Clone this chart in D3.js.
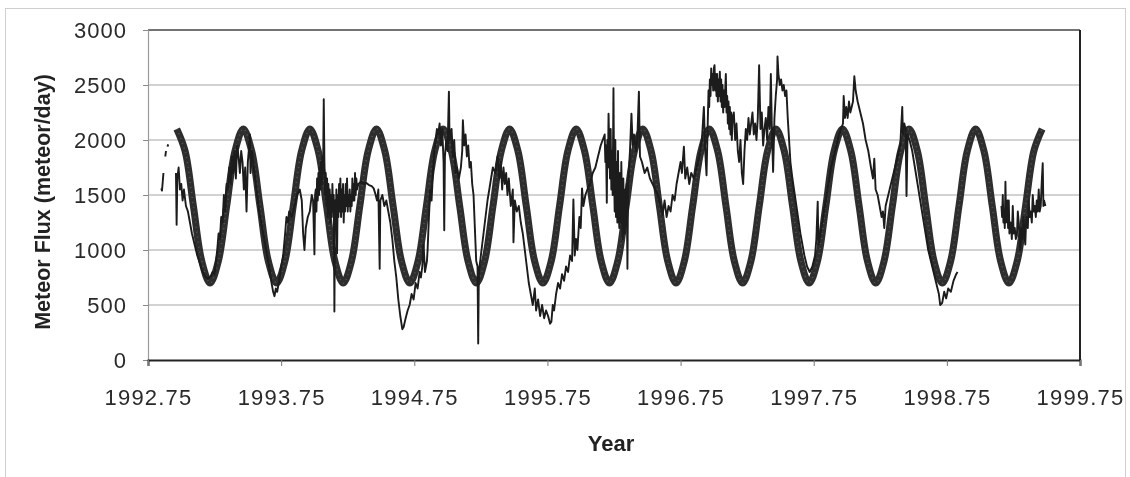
<!DOCTYPE html>
<html>
<head>
<meta charset="utf-8">
<script src="https://cdn.jsdelivr.net/npm/d3@7"></script>
<style>
  body{margin:0;background:#fff;}
  svg{display:block;font-family:"Liberation Sans", Arial, sans-serif;}
</style>
</head>
<body>
<svg id="chart" width="1130" height="477"></svg>
<script>
// axis ticks
const yearTicks = [1992.75, 1993.75, 1994.75, 1995.75, 1996.75, 1997.75, 1998.75, 1999.75];
const fluxTicks = [0, 500, 1000, 1500, 2000, 2500, 3000];

// model curve: one value every 1/16 year starting at the first peak
const modelStart = 1992.966;
const modelStep = 0.0625;
const modelFlux = [
  2100,1900,1400,900,700,900,1400,1900,
  2100,1900,1400,900,700,900,1400,1900,
  2100,1900,1400,900,700,900,1400,1900,
  2100,1900,1400,900,700,900,1400,1900,
  2100,1900,1400,900,700,900,1400,1900,
  2100,1900,1400,900,700,900,1400,1900,
  2100,1900,1400,900,700,900,1400,1900,
  2100,1900,1400,900,700,900,1400,1900,
  2100,1900,1400,900,700,900,1400,1900,
  2100,1900,1400,900,700,900,1400,1900,
  2100,1900,1400,900,700,900,1400,1900,
  2100,1900,1400,900,700,900,1400,1900,
  2100,1900,1400,900,700,900,1400,1900,
  2100
];

// observed flux [year, meteors/day], null = no data
const observed = [
  [1992.850,1560],[1992.855,1540],[1992.860,1610],[1992.866,1700],[1992.870,null],
  [1992.880,1850],[1992.885,1900],[1992.890,null],
  [1992.896,1940],[1992.902,1960],[1992.920,null],
  [1992.960,1700],[1992.965,1230],[1992.970,1650],[1992.980,1750],[1992.990,1550],
  [1993.000,1600],[1993.010,1450],[1993.020,1550],[1993.035,1400],[1993.050,1350],
  [1993.065,1250],[1993.080,1150],[1993.100,1050],[1993.120,950],[1993.140,880],
  [1993.160,800],[1993.180,760],[1993.200,740],[1993.220,760],[1993.235,800],
  [1993.250,780],[1993.260,900],[1993.270,1000],[1993.280,1150],[1993.290,1100],
  [1993.300,1300],[1993.310,1250],[1993.320,1500],[1993.330,1350],[1993.340,1600],
  [1993.350,1550],[1993.360,1750],[1993.370,1600],[1993.380,1850],[1993.390,1700],
  [1993.400,1900],[1993.410,1650],[1993.420,1950],[1993.430,1850],[1993.440,1700],
  [1993.450,1900],[1993.460,1800],[1993.470,1550],[1993.480,1750],[1993.490,1350],
  [1993.500,1800],[1993.510,1950],[1993.515,2050],[1993.520,1700],[1993.530,1900],
  [1993.540,1800],[1993.555,1650],[1993.570,1500],[1993.585,1350],[1993.600,1250],
  [1993.615,1150],[1993.630,1050],[1993.645,950],[1993.660,850],[1993.675,720],
  [1993.690,620],[1993.700,580],[1993.710,650],[1993.720,620],[1993.735,720],
  [1993.750,850],[1993.765,950],[1993.780,1150],[1993.790,1300],[1993.800,1250],
  [1993.810,1350],[1993.830,1300],[1993.850,1400],[1993.870,1500],[1993.890,1550],
  [1993.905,1450],[1993.915,1150],[1993.925,1000],[1993.935,1200],[1993.950,1300],
  [1993.965,1350],[1993.980,1500],[1993.990,1450],
  [1994.000,960],[1994.005,1500],[1994.010,1550],[1994.015,1350],[1994.020,1650],
  [1994.025,1450],[1994.030,1700],[1994.035,1500],[1994.040,1750],[1994.045,1550],
  [1994.050,1800],[1994.055,1600],[1994.060,1850],[1994.065,1700],[1994.070,2370],
  [1994.075,1800],[1994.080,1500],[1994.085,1700],[1994.090,1400],[1994.095,1650],
  [1994.100,1300],[1994.105,1600],[1994.110,1350],[1994.115,1550],[1994.120,1250],
  [1994.125,1500],[1994.130,1300],[1994.135,1600],[1994.140,1350],[1994.145,1500],
  [1994.150,440],[1994.155,1450],[1994.160,1250],[1994.165,1550],[1994.170,970],
  [1994.175,1500],[1994.180,1300],[1994.185,1600],[1994.190,1350],[1994.195,1650],
  [1994.200,1300],[1994.205,1550],[1994.210,1350],[1994.215,1600],[1994.220,1250],
  [1994.225,1500],[1994.230,1350],[1994.235,1600],[1994.240,1400],[1994.245,1650],
  [1994.250,1350],[1994.255,1500],[1994.260,1400],[1994.265,1550],[1994.270,1350],
  [1994.275,1500],[1994.280,1400],[1994.285,1650],[1994.290,1450],[1994.295,1600],
  [1994.300,1450],[1994.305,1700],[1994.310,1500],[1994.315,1650],[1994.320,1550],
  [1994.330,1600],[1994.350,1620],[1994.370,1600],[1994.390,1610],[1994.410,1590],
  [1994.430,1580],[1994.445,1560],[1994.460,1500],[1994.470,1450],[1994.480,1550],
  [1994.490,830],[1994.495,1450],[1994.510,1500],[1994.525,1400],[1994.540,1450],
  [1994.555,1350],[1994.570,1250],[1994.585,1100],[1994.600,900],[1994.615,750],
  [1994.630,550],[1994.645,400],[1994.660,280],[1994.670,300],[1994.685,380],
  [1994.700,450],[1994.715,500],[1994.730,600],[1994.745,550],[1994.760,700],
  [1994.775,650],[1994.790,800],[1994.800,750],[1994.810,850],[1994.820,1050],
  [1994.830,800],[1994.845,900],[1994.850,1000],[1994.860,1300],[1994.870,1550],
  [1994.880,1450],[1994.890,1700],[1994.900,1900],[1994.910,2000],[1994.920,2100],
  [1994.930,2050],[1994.940,2150],[1994.950,1950],[1994.960,2100],[1994.970,1800],
  [1994.975,1180],[1994.980,1850],[1994.990,2000],[1995.000,1900],[1995.010,2440],
  [1995.015,2000],[1995.030,2100],[1995.040,1850],[1995.050,2000],[1995.060,1700],
  [1995.070,1750],[1995.085,1650],[1995.100,1750],[1995.110,1900],[1995.115,2180],
  [1995.125,1950],[1995.135,2050],[1995.145,1850],[1995.155,1950],[1995.165,1750],
  [1995.175,1800],[1995.185,1600],[1995.195,1500],[1995.205,1200],[1995.215,900],
  [1995.225,850],[1995.230,150],[1995.235,800],[1995.245,900],[1995.260,1050],
  [1995.280,1250],[1995.300,1450],[1995.320,1600],[1995.340,1750],[1995.360,1700],
  [1995.375,1850],[1995.390,1650],[1995.400,1800],[1995.410,1550],[1995.420,1750],
  [1995.430,1600],[1995.440,1700],[1995.450,1500],[1995.460,1650],[1995.475,1400],
  [1995.490,1550],[1995.495,1070],[1995.505,1450],[1995.520,1350],[1995.535,1400],
  [1995.550,1250],[1995.565,1150],[1995.580,1000],[1995.595,850],[1995.610,700],
  [1995.625,600],[1995.640,500],[1995.655,650],[1995.665,450],[1995.680,550],
  [1995.695,400],[1995.710,500],[1995.725,380],[1995.740,450],[1995.755,400],
  [1995.770,330],[1995.780,350],[1995.790,500],[1995.800,450],[1995.815,600],
  [1995.830,700],[1995.845,650],[1995.860,780],[1995.875,720],[1995.890,850],
  [1995.905,800],[1995.920,950],[1995.935,900],[1995.945,1460],[1995.955,950],
  [1995.965,1100],[1995.975,1000],[1995.990,1300],[1996.000,1200],[1996.010,1560],
  [1996.020,1400],[1996.035,1500],[1996.050,1550],[1996.070,1600],[1996.090,1700],
  [1996.110,1750],[1996.130,1850],[1996.150,1950],[1996.165,2000],
  [1996.180,2050],[1996.185,1800],[1996.190,1950],[1996.196,1430],[1996.200,2000],
  [1996.205,1750],[1996.209,2240],[1996.215,1900],[1996.220,1650],[1996.225,2100],
  [1996.230,1550],[1996.235,1900],[1996.240,1500],[1996.246,2470],[1996.250,1750],
  [1996.255,1350],[1996.260,2000],[1996.265,1300],[1996.270,1800],[1996.275,1250],
  [1996.280,1900],[1996.285,1350],[1996.290,1200],[1996.295,1700],[1996.300,1250],
  [1996.305,1800],[1996.310,1400],[1996.315,1100],[1996.320,1650],[1996.325,1300],
  [1996.330,1150],[1996.335,1550],[1996.340,1250],[1996.345,1600],[1996.351,830],
  [1996.355,1500],[1996.360,1700],
  [1996.370,1900],[1996.381,2240],[1996.390,1950],[1996.400,2050],[1996.415,1900],
  [1996.425,2000],[1996.437,2440],[1996.445,1850],[1996.460,1800],[1996.480,1700],
  [1996.500,1750],[1996.520,1650],[1996.540,1600],[1996.560,1550],[1996.580,1500],
  [1996.600,1400],[1996.615,1320],[1996.630,1450],[1996.645,1300],[1996.660,1400],
  [1996.675,1350],[1996.690,1500],[1996.705,1450],[1996.720,1600],[1996.735,1700],
  [1996.750,1800],[1996.760,1700],[1996.775,1940],[1996.785,1650],[1996.800,1750],
  [1996.815,1600],[1996.830,1700],[1996.850,1650],[1996.870,1750],[1996.890,1850],
  [1996.910,2000],[1996.925,2300],[1996.935,1900],[1996.945,1680],
  [1996.955,2200],[1996.960,2450],[1996.965,2300],[1996.970,2550],[1996.975,2400],
  [1996.980,2650],[1996.985,2500],[1996.990,2600],[1996.995,2450],[1997.000,2650],
  [1997.005,2680],[1997.010,2450],[1997.015,2600],[1997.020,2400],[1997.025,2600],
  [1997.030,2350],[1997.035,2550],[1997.040,2400],[1997.045,2620],[1997.050,2350],
  [1997.055,2550],[1997.060,2300],[1997.065,2500],[1997.070,2250],[1997.075,2450],
  [1997.080,2300],[1997.085,2450],[1997.090,2600],[1997.095,2250],[1997.100,2400],
  [1997.105,2150],[1997.110,2350],[1997.115,2100],[1997.120,2300],[1997.125,2050],
  [1997.130,2250],[1997.135,2000],[1997.140,2200],[1997.150,2250],[1997.160,2000],
  [1997.170,2150],[1997.180,1900],[1997.190,1800],[1997.200,2000],[1997.210,1700],
  [1997.220,1600],[1997.230,1900],[1997.240,2100],[1997.250,2000],[1997.260,2200],
  [1997.270,2050],[1997.280,2150],[1997.290,2250],[1997.300,2050],[1997.310,2150],
  [1997.320,2000],[1997.330,2200],[1997.340,2680],[1997.350,2100],[1997.360,2250],
  [1997.370,1950],[1997.380,2100],[1997.390,2200],[1997.400,2000],[1997.410,2300],
  [1997.420,2100],[1997.428,2600],[1997.435,2150],[1997.445,1710],[1997.455,2200],
  [1997.465,2400],[1997.475,2550],[1997.478,2760],[1997.485,2600],[1997.495,2500],
  [1997.505,2550],[1997.515,2450],[1997.525,2500],[1997.535,2400],[1997.545,2450],
  [1997.555,2200],[1997.565,2000],[1997.575,1800],[1997.590,1650],[1997.620,1400],
  [1997.650,1150],[1997.680,950],[1997.700,850],[1997.720,800],[1997.740,850],
  [1997.760,950],[1997.770,1100],[1997.780,1440],[1997.785,1050],[1997.800,1150],
  [1997.820,1300],[1997.840,1450],[1997.860,1600],[1997.880,1750],[1997.900,1850],
  [1997.920,1950],[1997.940,2050],[1997.955,2100],[1997.970,2150],[1997.975,2400],
  [1997.985,2200],[1997.995,2300],[1998.005,2200],[1998.015,2350],[1998.025,2250],
  [1998.035,2300],[1998.045,2350],[1998.055,2580],[1998.065,2450],[1998.080,2350],
  [1998.100,2250],[1998.120,2150],[1998.140,2000],[1998.160,1900],[1998.180,1750],
  [1998.195,1650],[1998.205,1830],[1998.215,1550],[1998.230,1500],[1998.245,1400],
  [1998.260,1300],[1998.270,1350],[1998.280,1200],[1998.290,1400],[1998.300,1450],
  [1998.320,1550],[1998.340,1650],[1998.360,1750],[1998.380,1850],[1998.400,1950],
  [1998.415,2300],[1998.420,2050],[1998.430,2150],[1998.440,2100],[1998.447,1490],
  [1998.455,2050],[1998.470,2000],[1998.490,1900],[1998.510,1750],[1998.530,1600],
  [1998.550,1450],[1998.570,1300],[1998.590,1150],[1998.610,1000],[1998.630,900],
  [1998.650,800],[1998.670,700],[1998.690,600],[1998.700,500],[1998.715,520],
  [1998.730,620],[1998.745,560],[1998.760,650],[1998.780,620],[1998.800,720],
  [1998.820,780],[1998.830,800],[1998.900,null],
  [1999.160,1400],[1999.165,1300],[1999.170,1500],[1999.175,1250],[1999.180,1350],
  [1999.185,1200],[1999.190,1620],[1999.195,1250],[1999.200,1300],[1999.205,1450],
  [1999.210,1200],[1999.215,1450],[1999.220,1150],[1999.230,1250],[1999.238,1100],
  [1999.245,1400],[1999.252,1150],[1999.260,1200],[1999.268,1100],[1999.276,1130],
  [1999.283,1350],[1999.290,1250],[1999.301,1000],[1999.310,1200],[1999.318,1100],
  [1999.325,1300],[1999.332,1150],[1999.339,1050],[1999.345,1250],[1999.350,1300],
  [1999.358,1200],[1999.365,1450],[1999.372,1300],[1999.380,1350],[1999.388,1250],
  [1999.395,1500],[1999.403,1350],[1999.410,1400],[1999.418,1300],[1999.425,1450],
  [1999.432,1350],[1999.440,1550],[1999.447,1350],[1999.455,1400],[1999.462,1600],
  [1999.470,1790],[1999.475,1400],[1999.480,1450],[1999.490,1400]
];

var svg = d3.select("#chart");
var plotL = 148, plotR = 1080, plotT = 30, plotB = 360;

// soft edges like the scanned figure
svg.append("defs").append("filter")
    .attr("id", "scan")
    .append("feGaussianBlur")
    .attr("stdDeviation", 0.45);

svg.append("rect")
    .attr("x", 5.5).attr("y", 8.5)
    .attr("width", 1120).attr("height", 480)
    .attr("fill", "none")
    .attr("stroke", "#cfcfcf");

var x = d3.scaleLinear().domain([1992.75, 1999.75]).range([plotL, plotR]);
var y = d3.scaleLinear().domain([0, 3000]).range([plotB, plotT]);

var g = svg.append("g").attr("filter", "url(#scan)");

// gridlines
g.append("g")
    .selectAll("line")
    .data(fluxTicks.filter(d => d > 0 && d < 3000))
    .enter().append("line")
    .attr("x1", plotL).attr("x2", plotR)
    .attr("y1", d => y(d)).attr("y2", d => y(d))
    .attr("stroke", "#a6a6a6")
    .attr("stroke-width", 1.2);

// model curve (thick band of markers)
var modelData = modelFlux.map((v, i) => [modelStart + i * modelStep, v]);
var modelLine = d3.line()
    .x(d => x(d[0]))
    .y(d => y(d[1]))
    .curve(d3.curveCatmullRom.alpha(0.5));
g.append("path")
    .datum(modelData)
    .attr("fill", "none")
    .attr("stroke", "#2e2e2e")
    .attr("stroke-width", 7)
    .attr("d", modelLine);
// faint speckle inside the band
g.append("path")
    .datum(modelData)
    .attr("fill", "none")
    .attr("stroke", "#555")
    .attr("stroke-width", 1.6)
    .attr("stroke-dasharray", "1,4")
    .attr("d", modelLine);

// observed flux
g.append("path")
    .datum(observed)
    .attr("fill", "none")
    .attr("stroke", "#1a1a1a")
    .attr("stroke-width", 1.9)
    .attr("stroke-linejoin", "round")
    .attr("d", d3.line()
        .defined(d => d[1] !== null)
        .x(d => x(d[0]))
        .y(d => y(d[1])));

// frame: top and right
g.append("line")
    .attr("x1", plotL).attr("x2", plotR).attr("y1", plotT).attr("y2", plotT)
    .attr("stroke", "#444").attr("stroke-width", 1.6);
g.append("line")
    .attr("x1", plotR).attr("x2", plotR).attr("y1", plotT).attr("y2", plotB)
    .attr("stroke", "#222").attr("stroke-width", 2);

// y axis
var yAxis = g.append("g")
    .attr("transform", "translate(" + plotL + ",0)")
    .call(d3.axisLeft(y).tickValues(fluxTicks).tickSize(5).tickPadding(16).tickFormat(d3.format("d")));
yAxis.select(".domain").attr("stroke", "#9a9a9a").attr("stroke-width", 1.2);
yAxis.selectAll(".tick line").attr("stroke", "#888");
yAxis.selectAll("text")
    .attr("font-size", 22)
    .attr("letter-spacing", 1)
    .attr("fill", "#2a2a2a");

// x axis
var xAxis = g.append("g")
    .attr("transform", "translate(0," + plotB + ")")
    .call(d3.axisBottom(x).tickValues(yearTicks).tickSize(6).tickPadding(23).tickFormat(d3.format(".2f")));
xAxis.select(".domain").attr("stroke", "#222").attr("stroke-width", 2);
xAxis.selectAll(".tick line").attr("stroke", "#777");
xAxis.selectAll("text")
    .attr("font-size", 22)
    .attr("letter-spacing", 1.2)
    .attr("fill", "#2a2a2a");

// axis titles
g.append("text")
    .attr("transform", "translate(50,202) rotate(-90)")
    .attr("text-anchor", "middle")
    .attr("font-size", 21.5)
    .attr("font-weight", "bold")
    .attr("fill", "#222")
    .text("Meteor Flux (meteor/day)");

g.append("text")
    .attr("x", 611).attr("y", 451)
    .attr("text-anchor", "middle")
    .attr("font-size", 22)
    .attr("font-weight", "bold")
    .attr("fill", "#222")
    .text("Year");
</script>
</body>
</html>
